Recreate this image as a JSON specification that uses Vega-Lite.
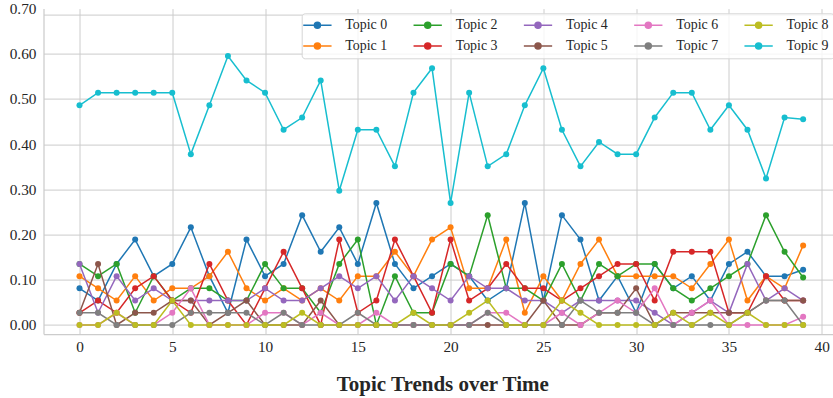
{
  "$schema": "https://vega.github.io/schema/vega-lite/v6.json",
  "width": 789.5,
  "height": 325.4,
  "autosize": {"type": "none"},
  "padding": {"left": 43.5, "top": 8.6, "right": 0, "bottom": 64},
  "background": "white",
  "config": {
    "view": {"stroke": null},
    "font": "Liberation Serif",
    "axis": {"labelFont": "Liberation Serif", "titleFont": "Liberation Serif", "labelColor": "#262626", "titleColor": "#262626", "gridColor": "#cccccc", "gridWidth": 1, "domain": true, "domainColor": "#cccccc", "domainWidth": 1.25, "ticks": false, "labelOverlap": false},
    "legend": {"labelFont": "Liberation Serif"}
  },
  "data": {"values": [
    {"t":0,"Topic 0":0.081,"Topic 1":0.108,"Topic 2":0.135,"Topic 3":0.027,"Topic 4":0.135,"Topic 5":0.027,"Topic 6":0,"Topic 7":0.027,"Topic 8":0,"Topic 9":0.486},
    {"t":1,"Topic 0":0.054,"Topic 1":0.081,"Topic 2":0.108,"Topic 3":0.054,"Topic 4":0.027,"Topic 5":0.135,"Topic 6":0,"Topic 7":0.027,"Topic 8":0,"Topic 9":0.514},
    {"t":2,"Topic 0":0.135,"Topic 1":0.054,"Topic 2":0.135,"Topic 3":0.027,"Topic 4":0.108,"Topic 5":0,"Topic 6":0.027,"Topic 7":0,"Topic 8":0.027,"Topic 9":0.514},
    {"t":3,"Topic 0":0.189,"Topic 1":0.108,"Topic 2":0.027,"Topic 3":0.081,"Topic 4":0.054,"Topic 5":0.027,"Topic 6":0,"Topic 7":0,"Topic 8":0,"Topic 9":0.514},
    {"t":4,"Topic 0":0.108,"Topic 1":0.054,"Topic 2":0.108,"Topic 3":0.108,"Topic 4":0.081,"Topic 5":0.027,"Topic 6":0,"Topic 7":0,"Topic 8":0,"Topic 9":0.514},
    {"t":5,"Topic 0":0.135,"Topic 1":0.081,"Topic 2":0.054,"Topic 3":0.054,"Topic 4":0.054,"Topic 5":0.054,"Topic 6":0.027,"Topic 7":0,"Topic 8":0.054,"Topic 9":0.514},
    {"t":6,"Topic 0":0.216,"Topic 1":0.081,"Topic 2":0.081,"Topic 3":0.027,"Topic 4":0.054,"Topic 5":0.054,"Topic 6":0.081,"Topic 7":0.027,"Topic 8":0,"Topic 9":0.378},
    {"t":7,"Topic 0":0.108,"Topic 1":0.108,"Topic 2":0.081,"Topic 3":0.135,"Topic 4":0.054,"Topic 5":0,"Topic 6":0,"Topic 7":0.027,"Topic 8":0,"Topic 9":0.486},
    {"t":8,"Topic 0":0.027,"Topic 1":0.162,"Topic 2":0.054,"Topic 3":0.054,"Topic 4":0.054,"Topic 5":0.027,"Topic 6":0,"Topic 7":0.027,"Topic 8":0,"Topic 9":0.595},
    {"t":9,"Topic 0":0.189,"Topic 1":0.081,"Topic 2":0.054,"Topic 3":0,"Topic 4":0.054,"Topic 5":0.054,"Topic 6":0,"Topic 7":0.027,"Topic 8":0,"Topic 9":0.541},
    {"t":10,"Topic 0":0.108,"Topic 1":0.054,"Topic 2":0.135,"Topic 3":0.081,"Topic 4":0.081,"Topic 5":0,"Topic 6":0.027,"Topic 7":0,"Topic 8":0,"Topic 9":0.514},
    {"t":11,"Topic 0":0.135,"Topic 1":0.081,"Topic 2":0.081,"Topic 3":0.162,"Topic 4":0.054,"Topic 5":0,"Topic 6":0.027,"Topic 7":0.027,"Topic 8":0,"Topic 9":0.432},
    {"t":12,"Topic 0":0.243,"Topic 1":0.054,"Topic 2":0.081,"Topic 3":0.081,"Topic 4":0.054,"Topic 5":0,"Topic 6":0,"Topic 7":0,"Topic 8":0.027,"Topic 9":0.459},
    {"t":13,"Topic 0":0.162,"Topic 1":0.081,"Topic 2":0.027,"Topic 3":0,"Topic 4":0.081,"Topic 5":0.054,"Topic 6":0.027,"Topic 7":0,"Topic 8":0,"Topic 9":0.541},
    {"t":14,"Topic 0":0.216,"Topic 1":0.054,"Topic 2":0.135,"Topic 3":0.189,"Topic 4":0.108,"Topic 5":0,"Topic 6":0,"Topic 7":0,"Topic 8":0,"Topic 9":0.297},
    {"t":15,"Topic 0":0.135,"Topic 1":0.108,"Topic 2":0.189,"Topic 3":0.027,"Topic 4":0.081,"Topic 5":0,"Topic 6":0,"Topic 7":0.027,"Topic 8":0,"Topic 9":0.432},
    {"t":16,"Topic 0":0.270,"Topic 1":0.108,"Topic 2":0,"Topic 3":0.054,"Topic 4":0.108,"Topic 5":0,"Topic 6":0.027,"Topic 7":0,"Topic 8":0,"Topic 9":0.432},
    {"t":17,"Topic 0":0.135,"Topic 1":0.162,"Topic 2":0.108,"Topic 3":0.189,"Topic 4":0.054,"Topic 5":0,"Topic 6":0,"Topic 7":0,"Topic 8":0,"Topic 9":0.351},
    {"t":18,"Topic 0":0.081,"Topic 1":0.108,"Topic 2":0.027,"Topic 3":0.108,"Topic 4":0.108,"Topic 5":0,"Topic 6":0,"Topic 7":0,"Topic 8":0.027,"Topic 9":0.514},
    {"t":19,"Topic 0":0.108,"Topic 1":0.189,"Topic 2":0.027,"Topic 3":0.027,"Topic 4":0.081,"Topic 5":0,"Topic 6":0,"Topic 7":0,"Topic 8":0,"Topic 9":0.568},
    {"t":20,"Topic 0":0.135,"Topic 1":0.216,"Topic 2":0.135,"Topic 3":0.189,"Topic 4":0.054,"Topic 5":0,"Topic 6":0,"Topic 7":0,"Topic 8":0,"Topic 9":0.270},
    {"t":21,"Topic 0":0.108,"Topic 1":0.081,"Topic 2":0.108,"Topic 3":0.054,"Topic 4":0.108,"Topic 5":0,"Topic 6":0,"Topic 7":0,"Topic 8":0.027,"Topic 9":0.514},
    {"t":22,"Topic 0":0.054,"Topic 1":0.081,"Topic 2":0.243,"Topic 3":0.081,"Topic 4":0.081,"Topic 5":0,"Topic 6":0.027,"Topic 7":0.027,"Topic 8":0.054,"Topic 9":0.351},
    {"t":23,"Topic 0":0.081,"Topic 1":0.189,"Topic 2":0.081,"Topic 3":0.135,"Topic 4":0.081,"Topic 5":0,"Topic 6":0.027,"Topic 7":0,"Topic 8":0,"Topic 9":0.378},
    {"t":24,"Topic 0":0.270,"Topic 1":0.027,"Topic 2":0.081,"Topic 3":0.081,"Topic 4":0.054,"Topic 5":0,"Topic 6":0,"Topic 7":0,"Topic 8":0,"Topic 9":0.486},
    {"t":25,"Topic 0":0.054,"Topic 1":0.108,"Topic 2":0.054,"Topic 3":0.081,"Topic 4":0.054,"Topic 5":0.054,"Topic 6":0,"Topic 7":0,"Topic 8":0,"Topic 9":0.568},
    {"t":26,"Topic 0":0.243,"Topic 1":0.054,"Topic 2":0.135,"Topic 3":0.054,"Topic 4":0.027,"Topic 5":0,"Topic 6":0.027,"Topic 7":0,"Topic 8":0.054,"Topic 9":0.432},
    {"t":27,"Topic 0":0.189,"Topic 1":0.135,"Topic 2":0.054,"Topic 3":0.081,"Topic 4":0.054,"Topic 5":0,"Topic 6":0,"Topic 7":0.054,"Topic 8":0.027,"Topic 9":0.351},
    {"t":28,"Topic 0":0.054,"Topic 1":0.189,"Topic 2":0.135,"Topic 3":0.108,"Topic 4":0.054,"Topic 5":0.027,"Topic 6":0.027,"Topic 7":0.027,"Topic 8":0,"Topic 9":0.405},
    {"t":29,"Topic 0":0.108,"Topic 1":0.108,"Topic 2":0.108,"Topic 3":0.135,"Topic 4":0.054,"Topic 5":0.027,"Topic 6":0.054,"Topic 7":0.027,"Topic 8":0,"Topic 9":0.378},
    {"t":30,"Topic 0":0.027,"Topic 1":0.108,"Topic 2":0.135,"Topic 3":0.135,"Topic 4":0.054,"Topic 5":0.081,"Topic 6":0.027,"Topic 7":0.027,"Topic 8":0,"Topic 9":0.378},
    {"t":31,"Topic 0":0.135,"Topic 1":0.108,"Topic 2":0.135,"Topic 3":0.054,"Topic 4":0.027,"Topic 5":0,"Topic 6":0.081,"Topic 7":0,"Topic 8":0,"Topic 9":0.459},
    {"t":32,"Topic 0":0.081,"Topic 1":0.108,"Topic 2":0.081,"Topic 3":0.162,"Topic 4":0,"Topic 5":0.027,"Topic 6":0,"Topic 7":0,"Topic 8":0.027,"Topic 9":0.514},
    {"t":33,"Topic 0":0.108,"Topic 1":0.081,"Topic 2":0.054,"Topic 3":0.162,"Topic 4":0.027,"Topic 5":0.027,"Topic 6":0.027,"Topic 7":0,"Topic 8":0,"Topic 9":0.514},
    {"t":34,"Topic 0":0.054,"Topic 1":0.135,"Topic 2":0.081,"Topic 3":0.162,"Topic 4":0.054,"Topic 5":0.027,"Topic 6":0.054,"Topic 7":0,"Topic 8":0.027,"Topic 9":0.432},
    {"t":35,"Topic 0":0.135,"Topic 1":0.189,"Topic 2":0.108,"Topic 3":0.027,"Topic 4":0.027,"Topic 5":0.027,"Topic 6":0,"Topic 7":0,"Topic 8":0,"Topic 9":0.486},
    {"t":36,"Topic 0":0.162,"Topic 1":0.054,"Topic 2":0.135,"Topic 3":0.027,"Topic 4":0.135,"Topic 5":0.027,"Topic 6":0,"Topic 7":0.027,"Topic 8":0.027,"Topic 9":0.432},
    {"t":37,"Topic 0":0.108,"Topic 1":0.108,"Topic 2":0.243,"Topic 3":0.108,"Topic 4":0.054,"Topic 5":0.054,"Topic 6":0,"Topic 7":0.054,"Topic 8":0,"Topic 9":0.324},
    {"t":38,"Topic 0":0.108,"Topic 1":0.081,"Topic 2":0.162,"Topic 3":0.054,"Topic 4":0.081,"Topic 5":0.054,"Topic 6":0,"Topic 7":0.054,"Topic 8":0,"Topic 9":0.459},
    {"t":39,"Topic 0":0.122,"Topic 1":0.176,"Topic 2":0.105,"Topic 3":0.054,"Topic 4":0.054,"Topic 5":0.054,"Topic 6":0.018,"Topic 7":0,"Topic 8":0,"Topic 9":0.455}
  ]},
  "transform": [
    {"fold": ["Topic 0","Topic 1","Topic 2","Topic 3","Topic 4","Topic 5","Topic 6","Topic 7","Topic 8","Topic 9"], "as": ["topic","value"]}
  ],
  "encoding": {
    "x": {"field": "t", "type": "quantitative",
      "scale": {"domain": [-1.94, 40.61], "nice": false, "zero": false},
      "axis": {"values": [0,5,10,15,20,25,30,35,40], "labelFontSize": 15.3, "labelPadding": 5,
        "title": "Topic Trends over Time", "titleFontSize": 21, "titleFontWeight": "bold", "titlePadding": 19, "titleX": 398.8}},
    "y": {"field": "value", "type": "quantitative",
      "scale": {"domain": [-0.02, 0.70], "nice": false, "zero": false},
      "axis": {"values": [0,0.1,0.2,0.3,0.4,0.5,0.6,0.6865,0.7], "format": ".2f", "labelFontSize": 15.3, "labelPadding": 7.5, "title": null,
        "labelOpacity": {"condition": {"test": "datum.value > 0.68 && datum.value < 0.69", "value": 0}, "value": 1},
        "gridOpacity": {"condition": {"test": "datum.value > 0.69", "value": 0}, "value": 1}}},
    "color": {"field": "topic", "type": "nominal",
      "scale": {"domain": ["Topic 0","Topic 2","Topic 4","Topic 6","Topic 8","Topic 1","Topic 3","Topic 5","Topic 7","Topic 9"],
        "range": ["#1f77b4","#2ca02c","#9467bd","#e377c2","#bcbd22","#ff7f0e","#d62728","#8c564b","#7f7f7f","#17becf"]},
      "legend": {"title": null, "orient": "none", "legendX": 258.2, "legendY": 4.7, "direction": "horizontal", "columns": 5,
        "symbolType": "M-2.83,0L2.83,0M0.6,0A0.6,0.6,0,1,1,-0.6,0A0.6,0.6,0,1,1,0.6,0Z",
        "symbolSize": 100, "symbolStrokeWidth": 1.5, "symbolOffset": 3.75, "labelOffset": 21,
        "labelFontSize": 13.9, "labelColor": "#262626", "rowPadding": 5.8, "columnPadding": 22.3,
        "padding": 5, "fillColor": "rgba(255,255,255,0.8)", "strokeColor": "#d6d6d6", "cornerRadius": 3,
        "encode": {"symbols": {"update": {"fill": {"scale": "color", "field": "value"}, "stroke": {"scale": "color", "field": "value"}, "opacity": {"value": 1}}}}}}
  },
  "layer": [
    {"mark": {"type": "line", "strokeWidth": 1.5}},
    {"mark": {"type": "point", "filled": true, "size": 36, "opacity": 1}}
  ]
}
